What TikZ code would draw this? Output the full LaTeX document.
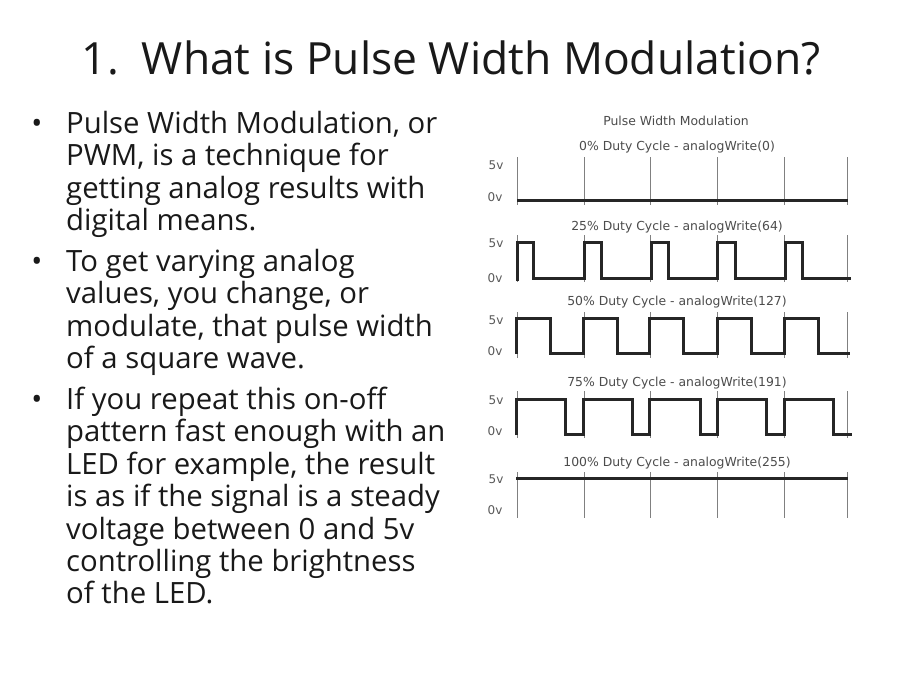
\documentclass[tikz,border=0pt]{standalone}
\usepackage{fontspec}
\setmainfont{Open Sans}
\newfontfamily\chartfont{DejaVu Sans}
\tikzset{
    titletext/.style = {inner sep=0pt,font=\fontsize{44.4}{50}\selectfont,text=black!90},
    bodytext/.style = {inner sep=0pt,anchor=north west,align=left,font=\fontsize{29.3}{32.35}\selectfont,text=black!90},
    bullet/.style = {inner sep=0pt,font=\fontsize{29.3}{32.35}\selectfont,text=black!90},
    charthead/.style = {inner sep=0pt,font=\chartfont\fontsize{12.4}{14}\selectfont,text=black!70},
    voltlabel/.style = {inner sep=0pt,font=\chartfont\fontsize{12}{13}\selectfont,text=black!65},
    edgetick/.style = {-,line width=0.9pt,black!50},
    edgewave/.style = {-,line width=3pt,black!85,line join=miter}
}
\begin{document}
\begin{tikzpicture}[x=1pt,y=-1pt]
\path[use as bounding box,fill=white] (0,0) rectangle (900,675);
%
\node[titletext] at (451,58) (title) {1.\ \ What is Pulse Width Modulation?};
%
\node[bullet] at (37,126) (b1) {•};
\node[bullet] at (37,264) (b2) {•};
\node[bullet] at (37,402) (b3) {•};
\node[bodytext] at (66,111) (t1) {Pulse Width Modulation, or\\PWM, is a technique for\\getting analog results with\\digital means.};
\node[bodytext] at (66,249) (t2) {To get varying analog\\values, you change, or\\modulate, that pulse width\\of a square wave.};
\node[bodytext] at (66,387) (t3) {If you repeat this on-off\\pattern fast enough with an\\LED for example, the result\\is as if the signal is a steady\\voltage between 0 and 5v\\controlling the brightness\\of the LED.};
%
\node[charthead] at (676,120.5) (head) {Pulse Width Modulation};
\node[charthead] at (677,147.5) (h0) {0\% Duty Cycle - analogWrite(0)};
\node[charthead] at (677,227.5) (h25) {25\% Duty Cycle - analogWrite(64)};
\node[charthead] at (677,302.5) (h50) {50\% Duty Cycle - analogWrite(127)};
\node[charthead] at (677,383.5) (h75) {75\% Duty Cycle - analogWrite(191)};
\node[charthead] at (677,463.5) (h100) {100\% Duty Cycle - analogWrite(255)};
%
\foreach \ya/\yb/\name in {165/197/a,243/278/b,320/351/c,400/431/d,479/510/e} {
    \node[voltlabel] at (496,\ya) (hi\name) {5v};
    \node[voltlabel] at (495,\yb) (lo\name) {0v};
}
%
\foreach \ya/\yb in {157/205,235/282,312/358,391/438,472/518} {
    \foreach \x in {517,584,650.5,717,784.5,847} {
        \draw[edgetick] (\x,\ya) -- (\x,\yb);
    }
}
%
\draw[edgewave] (517,200.7) -- (848,200.7);
\draw[edgewave] (517,281) -- (517,242) -| (533,278) -- (584,278) -- (584,242) -| (601,278) -- (651,278) -- (651,242) -| (668,278) -- (717,278) -- (717,242) -| (735,278) -- (785,278) -- (785,242) -| (802,278) -- (851,278);
\draw[edgewave] (516,354) -- (516,318.5) -| (550,353) -- (583,353) -- (583,318.5) -| (617,353) -- (649,353) -- (649,318.5) -| (683,353) -- (717,353) -- (717,318.5) -| (751,353) -- (784,353) -- (784,318.5) -| (818,353) -- (850,353);
\draw[edgewave] (516,435) -- (516,399) -| (565,434) -- (583,434) -- (583,399) -| (632,434) -- (649,434) -- (649,399) -| (700,434) -- (717,434) -- (717,399) -| (766,434) -- (784,434) -- (784,399) -| (833,434) -- (852,434);
\draw[edgewave] (516,478) -- (848,478);
\end{tikzpicture}
\end{document}
